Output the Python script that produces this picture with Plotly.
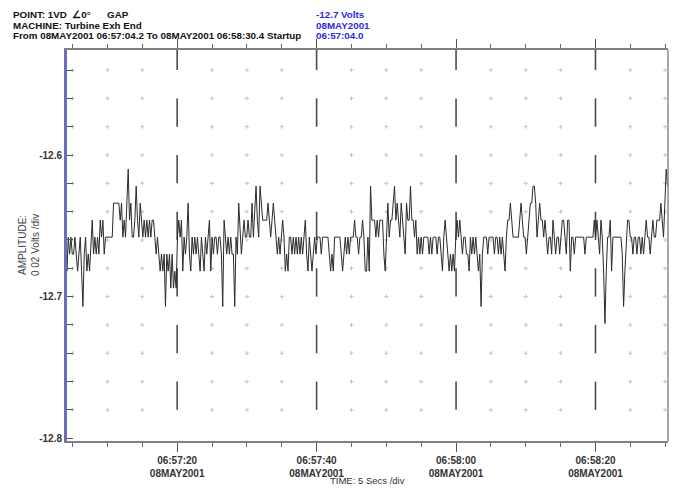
import plotly.graph_objects as go
from datetime import datetime, timedelta

# ---------------- data ----------------
amplitude_part1 = [
    -12.658, -12.682, -12.658, -12.670, -12.658, -12.670, -12.670, -12.658, -12.670, -12.682,
    -12.670, -12.658, -12.682, -12.707, -12.670, -12.658, -12.682, -12.670, -12.682, -12.658,
    -12.646, -12.670, -12.658, -12.670, -12.658, -12.670, -12.646, -12.658, -12.646, -12.670,
    -12.658, -12.658, -12.658, -12.658, -12.658, -12.658, -12.634, -12.634, -12.634, -12.634,
    -12.634, -12.646, -12.634, -12.658, -12.646, -12.658, -12.634, -12.610, -12.646, -12.634,
    -12.658, -12.658, -12.646, -12.622, -12.646, -12.658, -12.634, -12.646, -12.658, -12.646,
    -12.658, -12.646, -12.658, -12.646, -12.658, -12.646, -12.646, -12.658, -12.670, -12.658,
    -12.670, -12.682, -12.670, -12.682, -12.670, -12.707, -12.670, -12.682, -12.670, -12.694,
    -12.670, -12.694, -12.682, -12.694, -12.658, -12.646, -12.658, -12.646, -12.682, -12.658,
    -12.670, -12.658, -12.634, -12.670, -12.682, -12.658, -12.670, -12.658, -12.670, -12.658,
    -12.670, -12.682, -12.658, -12.670, -12.682, -12.658, -12.670, -12.658, -12.646, -12.682,
    -12.658, -12.670, -12.658,
]
amplitude_part2 = [
    -12.658, -12.670, -12.658, -12.658, -12.670, -12.707, -12.646, -12.658, -12.670, -12.658,
    -12.670, -12.658, -12.670, -12.670, -12.707, -12.658, -12.670, -12.634, -12.658, -12.670,
    -12.658, -12.646, -12.658, -12.658, -12.646, -12.658, -12.658, -12.634, -12.658, -12.634,
    -12.622, -12.646, -12.658, -12.622, -12.634, -12.646, -12.646, -12.646, -12.646, -12.634,
    -12.646, -12.658, -12.646, -12.634, -12.646, -12.658, -12.670, -12.658, -12.670, -12.658,
    -12.646, -12.658, -12.682, -12.670, -12.682, -12.658, -12.658, -12.670, -12.658, -12.670,
    -12.658, -12.670, -12.658, -12.670, -12.658, -12.670, -12.658, -12.646, -12.670, -12.682,
    -12.658, -12.670, -12.682, -12.670, -12.658, -12.670, -12.658, -12.658, -12.658, -12.670,
    -12.658, -12.658, -12.658, -12.658, -12.658, -12.670, -12.682, -12.670, -12.682, -12.658,
    -12.658, -12.658, -12.658, -12.658, -12.670, -12.682, -12.670, -12.658, -12.670, -12.658,
    -12.670, -12.658, -12.658, -12.658, -12.646, -12.658, -12.658, -12.670, -12.658, -12.658,
    -12.646, -12.658, -12.682,
]
amplitude_part3 = [
    -12.682, -12.658, -12.682, -12.622, -12.646, -12.646, -12.646, -12.658, -12.646, -12.658,
    -12.646, -12.646, -12.646, -12.670, -12.682, -12.658, -12.634, -12.658, -12.646, -12.646,
    -12.634, -12.622, -12.646, -12.634, -12.646, -12.658, -12.634, -12.646, -12.658, -12.670,
    -12.634, -12.646, -12.646, -12.622, -12.646, -12.646, -12.658, -12.646, -12.670, -12.658,
    -12.670, -12.658, -12.670, -12.658, -12.658, -12.658, -12.658, -12.670, -12.658, -12.670,
    -12.658, -12.658, -12.658, -12.670, -12.658, -12.658, -12.670, -12.682, -12.658, -12.646,
    -12.658, -12.670, -12.682, -12.670, -12.682, -12.670, -12.682, -12.658, -12.646, -12.658,
    -12.646, -12.658, -12.670, -12.658, -12.658, -12.670, -12.670, -12.682, -12.658, -12.670,
    -12.658, -12.670, -12.658, -12.670, -12.682, -12.670, -12.707, -12.670, -12.658, -12.658,
    -12.658, -12.670, -12.658, -12.658, -12.658, -12.658, -12.670, -12.658, -12.658, -12.670,
    -12.658, -12.670, -12.658, -12.670, -12.682, -12.658, -12.646, -12.646, -12.634, -12.646,
    -12.658, -12.658, -12.658,
]
amplitude_part4 = [
    -12.658, -12.658, -12.646, -12.634, -12.646, -12.658, -12.658, -12.670, -12.658, -12.646,
    -12.634, -12.634, -12.622, -12.622, -12.634, -12.658, -12.646, -12.634, -12.646, -12.646,
    -12.658, -12.646, -12.658, -12.670, -12.658, -12.658, -12.670, -12.646, -12.658, -12.670,
    -12.658, -12.658, -12.670, -12.658, -12.646, -12.646, -12.658, -12.670, -12.646, -12.646,
    -12.682, -12.658, -12.658, -12.670, -12.658, -12.658, -12.658, -12.658, -12.658, -12.658,
    -12.658, -12.670, -12.658, -12.658, -12.658, -12.658, -12.658, -12.658, -12.646, -12.658,
    -12.646, -12.658, -12.670, -12.646, -12.658, -12.682, -12.719, -12.682, -12.658, -12.658,
    -12.646, -12.682, -12.658, -12.658, -12.658, -12.658, -12.658, -12.658, -12.658, -12.670,
    -12.707, -12.682, -12.658, -12.646, -12.646, -12.658, -12.658, -12.670, -12.658, -12.658,
    -12.670, -12.658, -12.658, -12.670, -12.658, -12.670, -12.658, -12.646, -12.658, -12.658,
    -12.670, -12.658, -12.646, -12.658, -12.658, -12.646, -12.646, -12.646, -12.634, -12.646,
    -12.658, -12.634, -12.610, -12.622,
]

sample_start = datetime(2001, 5, 8, 6, 57, 4, 0)
sample_interval_s = 0.191

x_start = "2001-05-08 06:57:04.2"
x_end = "2001-05-08 06:58:30.4"

major_times = ["2001-05-08 06:57:20", "2001-05-08 06:57:40",
               "2001-05-08 06:58:00", "2001-05-08 06:58:20"]
major_labels = ["06:57:20<br>08MAY2001", "06:57:40<br>08MAY2001",
                "06:58:00<br>08MAY2001", "06:58:20<br>08MAY2001"]
minor_times = ["2001-05-08 06:57:05", "2001-05-08 06:57:10", "2001-05-08 06:57:15",
               "2001-05-08 06:57:25", "2001-05-08 06:57:30", "2001-05-08 06:57:35",
               "2001-05-08 06:57:45", "2001-05-08 06:57:50", "2001-05-08 06:57:55",
               "2001-05-08 06:58:05", "2001-05-08 06:58:10", "2001-05-08 06:58:15",
               "2001-05-08 06:58:25", "2001-05-08 06:58:30"]

y_ticks = [-12.80, -12.78, -12.76, -12.74, -12.72, -12.70, -12.68, -12.66,
           -12.64, -12.62, -12.60, -12.58, -12.56, -12.54]
y_ticktext = ["-12.8", "", "", "", "", "-12.7", "", "", "", "", "-12.6", "", "", ""]
y_range = [-12.802, -12.5258]

# ---------------- figure ----------------
amplitude = amplitude_part1 + amplitude_part2 + amplitude_part3 + amplitude_part4
times = [sample_start + timedelta(seconds=i * sample_interval_s) for i in range(len(amplitude))]

fig = go.Figure()

# dotted grid points (minor time ticks x amplitude divisions)
gx, gy = [], []
for t in minor_times:
    for v in y_ticks[1:]:
        gx.append(t)
        gy.append(v)
fig.add_trace(go.Scatter(x=gx, y=gy, mode="markers", hoverinfo="skip",
                         marker=dict(symbol="cross-thin", size=3,
                                     line=dict(color="#c4c4c4", width=1)),
                         showlegend=False))

# dashed major time lines (alternate divisions)
dx, dy = [], []
levels_desc = [y_range[1]] + y_ticks[::-1]  # top, -12.54, -12.56, ...
for t in major_times:
    for j in range(0, len(levels_desc) - 1, 2):
        dx += [t, t, None]
        dy += [levels_desc[j], levels_desc[j + 1], None]
fig.add_trace(go.Scatter(x=dx, y=dy, mode="lines", hoverinfo="skip",
                         line=dict(color="#4a4a4a", width=1.6),
                         showlegend=False))

# signal trace
fig.add_trace(go.Scatter(x=times, y=amplitude, mode="lines",
                         line=dict(color="#2a2a2a", width=1),
                         showlegend=False))

font_fam = "Liberation Sans, Arial, sans-serif"

# the page body adds an 8px margin, so the figure is sized to fit the window
fig.update_layout(
    width=670, height=480,
    margin=dict(l=59, r=10, t=42, b=47, autoexpand=False),
    paper_bgcolor="white", plot_bgcolor="white",
    font=dict(family=font_fam, size=10, color="#333"),
    xaxis=dict(
        type="date", range=[x_start, x_end], automargin=False,
        showgrid=False, zeroline=False,
        showline=True, linecolor="#808080", linewidth=1.5,
        mirror="allticks",
        ticks="outside", ticklen=9, tickwidth=1.3, tickcolor="#555",
        tickvals=major_times, ticktext=major_labels,
        tickfont=dict(family=font_fam, size=10, color="#333", weight="bold"),
        minor=dict(ticks="outside", ticklen=4, tickwidth=1, tickcolor="#666",
                   tickvals=minor_times, showgrid=False),
    ),
    yaxis=dict(
        range=y_range, automargin=False,
        showgrid=False, zeroline=False,
        showline=True, linecolor="#6c6cbf", linewidth=3,
        ticks="inside", ticklen=6, tickwidth=1.3, tickcolor="#555",
        tickvals=y_ticks, ticktext=y_ticktext,
        tickfont=dict(family=font_fam, size=10, color="#333", weight="bold"),
    ),
)

# right border
fig.add_shape(type="line", xref="paper", yref="paper", x0=1, x1=1, y0=0, y1=1,
              line=dict(color="#8a8a8a", width=1.5))

header_left = [
    "POINT: 1VD  ∠0°      GAP",
    "MACHINE: Turbine Exh End",
    "From 08MAY2001 06:57:04.2 To 08MAY2001 06:58:30.4 Startup",
]
header_right = ["-12.7 Volts", "08MAY2001", "06:57:04.0"]
header_rows_y = [1.090, 1.063, 1.036]
for txt, yy in zip(header_left, header_rows_y):
    fig.add_annotation(text="<b>" + txt + "</b>", xref="paper", yref="paper",
                       x=-0.092, y=yy, xanchor="left", yanchor="middle",
                       showarrow=False, borderpad=0,
                       font=dict(family=font_fam, size=9.8, color="#111"))
for txt, yy in zip(header_right, header_rows_y):
    fig.add_annotation(text="<b>" + txt + "</b>", xref="paper", yref="paper",
                       x=0.413, y=yy, xanchor="left", yanchor="middle",
                       showarrow=False, borderpad=0,
                       font=dict(family=font_fam, size=9.8, color="#2b2bdc"))

fig.add_annotation(text="AMPLITUDE:<br>0 02 Volts /div", xref="paper", yref="paper",
                   x=-0.064, y=0.5, xanchor="center", yanchor="middle",
                   textangle=-90, showarrow=False,
                   font=dict(family=font_fam, size=10, color="#444"))
fig.add_annotation(text="TIME: 5 Secs /div", xref="paper", yref="paper",
                   x=0.5, y=-0.1, xanchor="center", yanchor="middle",
                   showarrow=False,
                   font=dict(family=font_fam, size=9.5, color="#333"))

fig.write_html("out.html")
